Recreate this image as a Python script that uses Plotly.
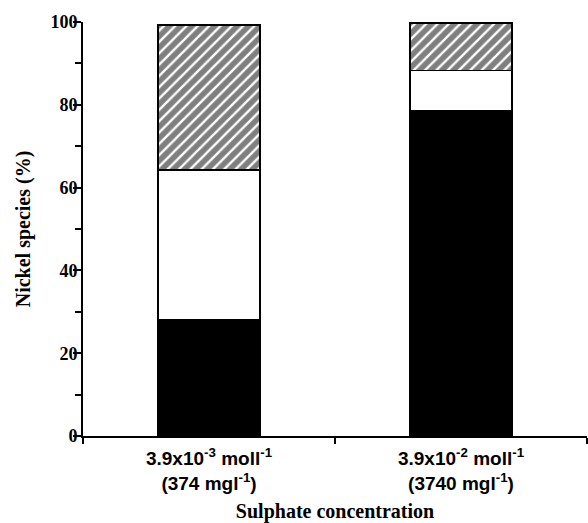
import plotly.graph_objects as go

categories = ["3.9x10<sup>-3</sup> moll<sup>-1</sup><br>(374 mgl<sup>-1</sup>)",
              "3.9x10<sup>-2</sup> moll<sup>-1</sup><br>(3740 mgl<sup>-1</sup>)"]
black_vals = [28.1, 78.6]
white_vals = [36.2, 9.7]
hatched_vals = [34.9, 11.4]
y_ticks = [0, 20, 40, 60, 80, 100]

line = dict(color="black", width=1.8)
fig = go.Figure()
fig.add_trace(go.Bar(x=categories, y=black_vals, marker=dict(color="black", line=line), width=0.405))
fig.add_trace(go.Bar(x=categories, y=white_vals, marker=dict(color="white", line=line), width=0.405))
fig.add_trace(go.Bar(x=categories, y=hatched_vals,
                     marker=dict(color="white", line=line,
                                 pattern=dict(shape="/", fgcolor="black", bgcolor="white", size=8, solidity=0.7)),
                     width=0.405))

serif = "Liberation Serif, Times New Roman"
fig.update_layout(
    width=588, height=523, barmode="stack", showlegend=False,
    plot_bgcolor="white", paper_bgcolor="white",
    margin=dict(l=83, r=1, t=22, b=87),
    xaxis=dict(
        automargin=False,
        tickson="boundaries", ticks="outside", ticklen=6, tickwidth=2, tickcolor="black",
        showline=True, linewidth=2, linecolor="black", showgrid=False,
        ticklabelstandoff=4,
        tickfont=dict(family="Liberation Sans, Arial", size=19, color="black", weight="bold"),
        title=dict(text="Sulphate concentration", standoff=19,
                   font=dict(family=serif, size=20, color="black", weight="bold")),
    ),
    yaxis=dict(
        automargin=False,
        range=[0, 100], tickvals=y_ticks, ticks="outside", ticklen=8, tickwidth=2, tickcolor="black",
        showline=True, linewidth=2, linecolor="black", showgrid=False, zeroline=False,
        ticklabelstandoff=-8,
        minor=dict(dtick=10, tick0=0, ticks="outside", ticklen=6, tickwidth=2, tickcolor="black", showgrid=False),
        tickfont=dict(family=serif, size=18, color="black", weight="bold"),
        title=dict(text="Nickel species (%)", standoff=14,
                   font=dict(family=serif, size=20, color="black", weight="bold")),
    ),
)
fig.write_html("out.html", post_script="document.body.style.margin='0';",
               config={"displayModeBar": False})
